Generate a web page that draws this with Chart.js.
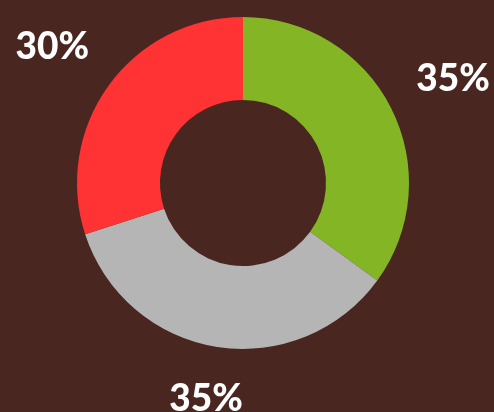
<!DOCTYPE html>
<html>
<head>
<meta charset="utf-8">
<script src="https://cdn.jsdelivr.net/npm/chart.js@4"></script>
<style>
  html, body { margin: 0; padding: 0; background: #4a2620; }
  #wrap { width: 494px; height: 412px; position: relative; }
</style>
</head>
<body>
<div id="wrap"><canvas id="chartDona"></canvas></div>
<script>
const categorias = ['Verde', 'Gris', 'Rojo'];
const valores = [35, 35, 30];
const etiquetas = ['35%', '35%', '30%'];
const colores = ['#84b524', '#b5b5b5', '#ff3333'];

// etiquetas fuera del anillo, dentro del lienzo
const etiquetasFuera = {
  id: 'etiquetasFuera',
  afterDatasetsDraw(chart) {
    const ctx = chart.ctx;
    const meta = chart.getDatasetMeta(0);
    ctx.save();
    ctx.font = '900 37px Lato';
    ctx.fillStyle = '#ffffff';
    ctx.textAlign = 'center';
    ctx.textBaseline = 'middle';
    meta.data.forEach((arc, i) => {
      const p = arc.getProps(['x', 'y', 'startAngle', 'endAngle', 'outerRadius'], true);
      const ang = (p.startAngle + p.endAngle) / 2;
      const r = p.outerRadius * 1.42;
      let x = p.x + Math.cos(ang) * r;
      let y = p.y + Math.sin(ang) * r;
      const w = ctx.measureText(etiquetas[i]).width;
      x = Math.min(Math.max(x, w / 2 + 10), chart.width - w / 2 - 2);
      y = Math.min(Math.max(y, 20), chart.height - 16);
      ctx.fillText(etiquetas[i], x, y + 3);
    });
    ctx.restore();
  }
};

new Chart(document.getElementById('chartDona'), {
  type: 'doughnut',
  data: {
    labels: categorias,
    datasets: [{
      data: valores,
      backgroundColor: colores,
      borderWidth: 0
    }]
  },
  options: {
    responsive: true,
    maintainAspectRatio: false,
    animation: false,
    cutout: '50%',
    layout: { padding: { top: 17, bottom: 63, left: 0, right: 8 } },
    plugins: {
      legend: false,
      tooltip: { enabled: false }
    }
  },
  plugins: [etiquetasFuera]
});
</script>
</body>
</html>
